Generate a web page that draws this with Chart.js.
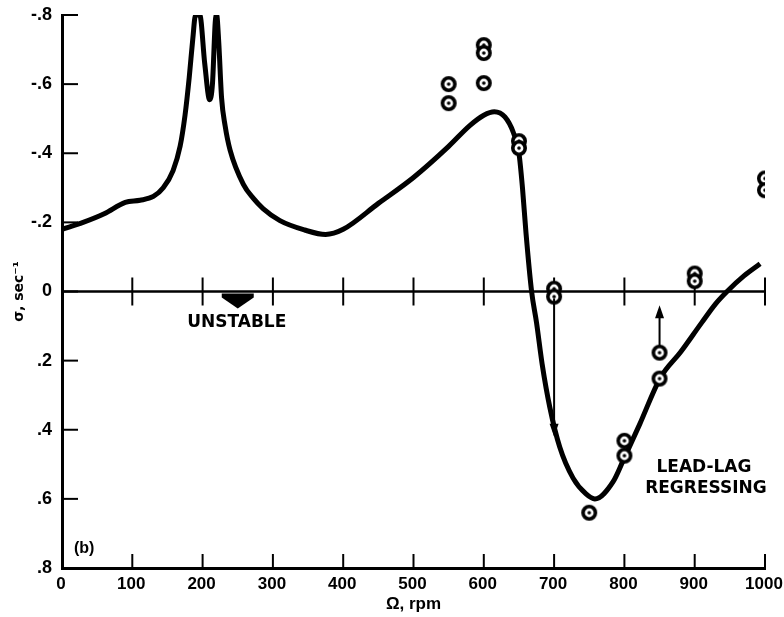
<!DOCTYPE html>
<html>
<head>
<meta charset="utf-8">
<title>Lead-lag regressing mode damping</title>
<script src="https://cdn.jsdelivr.net/npm/chart.js@4.4.1/dist/chart.umd.min.js"></script>
<style>
  html, body { margin: 0; padding: 0; background: #fff; }
  #wrap { width: 784px; height: 617px; }
</style>
</head>
<body>
<div id="wrap"><canvas id="sigmaChart" width="784" height="617"></canvas></div>
<script>
// theory curve: damping sigma (sec^-1) vs rotor speed (rpm)
const curveRpm = [0, 30, 60, 90, 111, 130, 144, 158, 168, 175, 181, 186, 190, 196, 203, 210, 214, 218, 220, 223, 227, 232, 239, 258, 272, 286, 310, 345, 375, 400, 450, 500, 550, 580, 600, 615, 630, 642, 650, 655, 660, 668, 675, 683, 694, 708, 727, 745, 758, 784, 798, 822, 851, 880, 910, 930, 946, 970, 993];
const curveSigma = [-0.18, -0.20, -0.225, -0.258, -0.264, -0.275, -0.30, -0.35, -0.42, -0.51, -0.62, -0.73, -0.80, -0.80, -0.66, -0.555, -0.60, -0.78, -0.80, -0.72, -0.56, -0.48, -0.41, -0.31, -0.27, -0.24, -0.205, -0.178, -0.165, -0.18, -0.255, -0.33, -0.42, -0.48, -0.51, -0.52, -0.505, -0.46, -0.40, -0.30, -0.17, 0, 0.09, 0.21, 0.336, 0.45, 0.54, 0.585, 0.60, 0.55, 0.49, 0.383, 0.25, 0.175, 0.09, 0.035, 0, -0.045, -0.08];

// measured points
const testRpm = [550, 550, 600, 600, 600, 650, 650, 700, 700, 750, 800, 800, 850, 850, 900, 900, 1000, 1000];
const testSigma = [-0.60, -0.545, -0.713, -0.69, -0.603, -0.435, -0.415, -0.008, 0.015, 0.64, 0.432, 0.475, 0.177, 0.252, -0.052, -0.03, -0.327, -0.293];

// arrows drawn from a measured point
const arrowRpm = [700, 850];
const arrowFrom = [0.02, 0.16];
const arrowTo = [0.42, 0.04];

const yTickLabels = { '-0.8': '-.8', '-0.6': '-.6', '-0.4': '-.4', '-0.2': '-.2', '0': '0', '0.2': '.2', '0.4': '.4', '0.6': '.6', '0.8': '.8' };

const LABEL_FONT = '"Liberation Sans", Arial, sans-serif';

function ringMark() {
  const c = document.createElement('canvas');
  c.width = 20; c.height = 20;
  const g = c.getContext('2d');
  g.beginPath();
  g.arc(10, 10, 6.2, 0, Math.PI * 2);
  g.fillStyle = '#fff';
  g.fill();
  g.lineWidth = 3.6;
  g.strokeStyle = '#000';
  g.stroke();
  g.beginPath();
  g.arc(10, 10, 1.8, 0, Math.PI * 2);
  g.fillStyle = '#000';
  g.fill();
  return c;
}

function seg(ctx, x1, y1, x2, y2) {
  ctx.beginPath();
  ctx.moveTo(x1, y1);
  ctx.lineTo(x2, y2);
  ctx.stroke();
}

// inner ticks, zero line, arrows and notes
const paperMarks = {
  id: 'paperMarks',
  beforeDatasetsDraw(chart) {
    const { ctx, chartArea: a, scales: { x, y } } = chart;
    const y0 = y.getPixelForValue(0);
    ctx.save();
    ctx.strokeStyle = '#000';
    ctx.lineWidth = 2.5;
    seg(ctx, a.left, y0, a.right, y0);
    ctx.lineWidth = 2;
    x.ticks.forEach(t => {
      if (t.value === 0) return;
      const px = x.getPixelForValue(t.value);
      seg(ctx, px, y0 - 14, px, y0 + 14);
      seg(ctx, px, a.bottom, px, a.bottom - 14);
    });
    y.ticks.forEach(t => {
      const py = y.getPixelForValue(t.value);
      seg(ctx, a.left, py, a.left + 16, py);
    });
    ctx.restore();
  },
  afterDatasetsDraw(chart) {
    const { ctx, chartArea: a, scales: { x, y } } = chart;
    ctx.save();
    ctx.strokeStyle = '#000';
    ctx.fillStyle = '#000';
    ctx.lineWidth = 2;
    arrowRpm.forEach((r, i) => {
      const px = x.getPixelForValue(r);
      const p1 = y.getPixelForValue(arrowFrom[i]);
      const p2 = y.getPixelForValue(arrowTo[i]);
      const dir = p2 > p1 ? 1 : -1;
      seg(ctx, px, p1, px, p2 - dir * 8);
      ctx.beginPath();
      ctx.moveTo(px, p2);
      ctx.lineTo(px - 4.5, p2 - dir * 13);
      ctx.lineTo(px + 4.5, p2 - dir * 13);
      ctx.closePath();
      ctx.fill();
    });

    // UNSTABLE marker under the zero line
    const ux = x.getPixelForValue(250);
    const uy = y.getPixelForValue(0);
    ctx.beginPath();
    ctx.moveTo(ux - 16, uy + 2);
    ctx.lineTo(ux + 16, uy + 2);
    ctx.lineTo(ux + 16, uy + 6);
    ctx.lineTo(ux, uy + 17);
    ctx.lineTo(ux - 16, uy + 6);
    ctx.closePath();
    ctx.fill();

    ctx.font = 'bold 17px "DejaVu Sans", sans-serif';
    ctx.textAlign = 'center';
    ctx.textBaseline = 'middle';
    ctx.fillText('UNSTABLE', ux - 1, uy + 31);

    const lx = x.getPixelForValue(916);
    ctx.fillText('LEAD-LAG', lx - 2, y.getPixelForValue(0.51));
    ctx.fillText('REGRESSING', lx, y.getPixelForValue(0.57));

    ctx.font = 'bold 16px ' + LABEL_FONT;
    ctx.textAlign = 'left';
    ctx.fillText('(b)', a.left + 12, a.bottom - 19);
    ctx.restore();
  }
};

const ctx = document.getElementById('sigmaChart').getContext('2d');
new Chart(ctx, {
  type: 'line',
  data: {
    datasets: [
      {
        type: 'scatter',
        data: testRpm.map((r, i) => ({ x: r, y: testSigma[i] })),
        pointStyle: ringMark(),
        pointRadius: 8,
        order: 0
      },
      {
        data: curveRpm.map((r, i) => ({ x: r, y: curveSigma[i] })),
        borderColor: '#000',
        borderWidth: 5,
        pointRadius: 0,
        cubicInterpolationMode: 'monotone',
        fill: false,
        order: 1
      }
    ]
  },
  options: {
    responsive: false,
    animation: false,
    devicePixelRatio: 1,
    layout: { padding: { top: 15, right: 19, left: 0, bottom: 0 } },
    plugins: { legend: { display: false }, tooltip: { enabled: false } },
    scales: {
      x: {
        type: 'linear',
        min: 0,
        max: 1000,
        ticks: {
          stepSize: 100,
          color: '#000',
          padding: 6,
          labelOffset: -1,
          maxRotation: 0,
          font: { family: LABEL_FONT, size: 17, weight: 'bold' },
          callback: v => String(v)
        },
        grid: { display: false, drawTicks: false },
        border: { display: true, color: '#000', width: 3 },
        title: {
          display: true,
          text: 'Ω, rpm',
          color: '#000',
          font: { family: LABEL_FONT, size: 17, weight: 'bold' },
          padding: { top: 0, bottom: 2 }
        },
        afterFit(scale) {
          scale.height = 49;
          scale.paddingLeft = 0;
          scale.paddingRight = 0;
        }
      },
      y: {
        type: 'linear',
        min: -0.8,
        max: 0.8,
        reverse: true,
        ticks: {
          stepSize: 0.2,
          color: '#000',
          padding: 10,
          font: { family: LABEL_FONT, size: 18, weight: 'bold' },
          callback: v => yTickLabels[String(Math.round(v * 10) / 10)]
        },
        grid: { display: false, drawTicks: false },
        border: { display: true, color: '#000', width: 3 },
        title: {
          display: true,
          text: 'σ, sec⁻¹',
          color: '#000',
          font: { family: '"DejaVu Sans", sans-serif', size: 14, weight: 'bold' },
          padding: { top: 11, bottom: 0 }
        },
        afterFit(scale) {
          scale.width = 62;
          scale.paddingTop = 0;
          scale.paddingBottom = 0;
        }
      }
    }
  },
  plugins: [paperMarks]
});
</script>
</body>
</html>
